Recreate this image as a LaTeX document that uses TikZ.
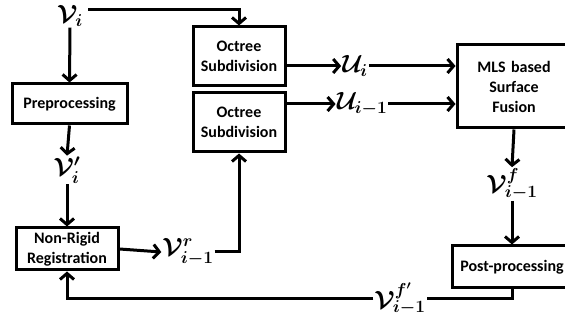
\documentclass[tikz,border=0pt]{standalone}
\usepackage{fontspec}
\setmainfont{Carlito}
\usetikzlibrary{arrows.meta}
\tikzset{
  box/.style={draw, line width=3pt, rectangle, align=center, font=\fontsize{16}{20}\selectfont\bfseries, inner sep=2pt},
  lab/.style={inner sep=1pt, font=\fontsize{25}{26}\selectfont\boldmath},
  arr/.style={line width=3pt, -{Straight Barb[length=6pt,width=14pt,line width=3pt]}},
  ln/.style={line width=3pt}
}
\begin{document}
\begin{tikzpicture}[x=1pt,y=-1pt]
\useasboundingbox (0,0) rectangle (565,320);
\clip (0,0) rectangle (565,320);
% boxes
\node[box, minimum width=92pt, minimum height=59pt] (oct1) at (239,56.5) {Octree\\Subdivision};
\node[box, minimum width=92pt, minimum height=59pt] (oct2) at (239,122.5) {Octree\\Subdivision};
\node[box, minimum width=115pt, minimum height=40pt] (pre) at (69.5,104) {Preprocessing};
\node[box, minimum width=102pt, minimum height=42pt] (nrr) at (67,249) {Non-Rigid\\Registration};
\node[box, minimum width=114pt, minimum height=83pt, text width=100pt] (mls) at (514,86.5) {MLS based\\Surface\\Fusion};
\node[box, minimum width=120pt, minimum height=42pt] (post) at (512,267) {Post-processing};
% labels
\node[lab] (vi) at (70,16) {$\mathcal{V}_i$};
\node[lab] (vip) at (67,170) {$\mathcal{V}'_i$};
\node[lab] (vr) at (188,252) {$\mathcal{V}^r_{i-1}$};
\node[lab] (ui) at (355,66) {$\mathcal{U}_i$};
\node[lab] (ui1) at (362,104) {$\mathcal{U}_{i-1}$};
\node[lab] (vf) at (512,184) {$\mathcal{V}^f_{i-1}$};
\node[lab] (vfp) at (400,299) {$\mathcal{V}^{f'}_{i-1}$};
\coordinate (vistart) at ([xshift=4pt,yshift=6pt]vi.east);
% connectors
\draw[arr] (vistart) -- (oct1.north |- vistart) -- (oct1.north);
\draw[arr] (vi.south) -- (pre.north);
\draw[arr] (pre.south) -- (vip.north);
\draw[arr] (vip.south) -- (nrr.north);
\draw[arr] (nrr.east) -- (vr.west);
\draw[arr] (vr.east) -| (oct2.south);
\draw[arr] (oct1.east |- ui.west) -- (ui.west);
\draw[arr] (ui.east) -- (ui.east -| mls.west);
\draw[arr] (oct2.east |- ui1.west) -- (ui1.west);
\draw[arr] (ui1.east) -- (ui1.east -| mls.west);
\draw[arr] (mls.south) -- (vf.north);
\draw[arr] (vf.south) -- (post.north);
\draw[ln] (post.south) |- (vfp.east);
\draw[arr] (vfp.west) -| (nrr.south);
\end{tikzpicture}
\end{document}
